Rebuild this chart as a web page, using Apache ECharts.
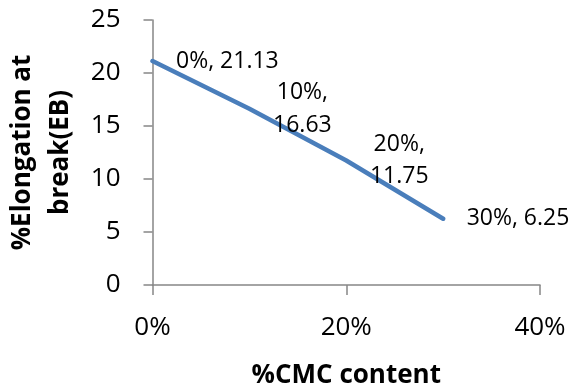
<!DOCTYPE html>
<html>
<head>
<meta charset="utf-8">
<style>
  html, body { margin: 0; padding: 0; background: #ffffff; }
  #chart { width: 582px; height: 387px; }
</style>
<script src="https://cdn.jsdelivr.net/npm/echarts@6/dist/echarts.min.js"></script>
</head>
<body>
<div id="chart"></div>
<script>
// CMC content (fraction) and elongation at break (%)
const cmcContent = [0, 0.1, 0.2, 0.3];
const elongation = [21.13, 16.63, 11.75, 6.25];
const xTicks = [0, 0.2, 0.4];
const yTicks = [0, 5, 10, 15, 20, 25];

const FONT = '"Open Sans", "Liberation Sans", sans-serif';
const LINE_COLOR = '#4a7ebb';
const pct = v => Math.round(v * 100) + '%';

// Points whose label wraps onto two centred lines
const wrapped = [false, true, true, false];

const chart = echarts.init(document.getElementById('chart'), null, { renderer: 'canvas' });

chart.setOption({
  animation: false,
  backgroundColor: '#ffffff',
  grid: { left: 152.5, right: 42, top: 20, bottom: 102, containLabel: false, outerBoundsMode: 'none' },
  xAxis: {
    type: 'value',
    min: xTicks[0],
    max: xTicks[xTicks.length - 1],
    interval: xTicks[1] - xTicks[0],
    name: '%CMC content',
    nameLocation: 'middle',
    nameGap: 78,
    nameTextStyle: { fontFamily: FONT, fontSize: 26, fontWeight: 'bold', color: '#000' },
    axisLine: { show: true, onZero: false, lineStyle: { color: '#868686', width: 1.5 } },
    axisTick: { show: true, length: 10, lineStyle: { color: '#868686', width: 1.5 } },
    axisLabel: { formatter: pct, margin: 30, fontFamily: FONT, fontSize: 26, color: '#000' },
    splitLine: { show: false }
  },
  yAxis: {
    type: 'value',
    min: yTicks[0],
    max: yTicks[yTicks.length - 1],
    interval: yTicks[1] - yTicks[0],
    name: '%Elongation at\nbreak(EB)',
    nameLocation: 'middle',
    nameGap: 72,
    nameRotate: 90,
    nameTextStyle: { fontFamily: FONT, fontSize: 26, fontWeight: 'bold', color: '#000', lineHeight: 38, align: 'center' },
    axisLine: { show: true, lineStyle: { color: '#868686', width: 1.5 } },
    axisTick: { show: true, length: 9, lineStyle: { color: '#868686', width: 1.5 } },
    axisLabel: { margin: 32, fontFamily: FONT, fontSize: 26, color: '#000' },
    splitLine: { show: false }
  },
  series: [{
    type: 'line',
    data: cmcContent.map((x, i) => [x, elongation[i]]),
    showSymbol: true,
    symbol: 'circle',
    symbolSize: 1,
    itemStyle: { color: LINE_COLOR, borderWidth: 0 },
    lineStyle: { color: LINE_COLOR, width: 4.5, cap: 'round', join: 'round' },
    label: {
      show: true,
      position: 'right',
      distance: 23,
      offset: [0, 2],
      fontFamily: FONT,
      fontSize: 23,
      color: '#000',
      lineHeight: 32.5,
      formatter: p => {
        const i = p.dataIndex;
        const a = pct(cmcContent[i]);
        const b = elongation[i].toFixed(2);
        return wrapped[i] ? '{c|' + a + ',}\n{c|' + b + '}' : a + ', ' + b;
      },
      rich: {
        c: { width: 59, align: 'center', fontFamily: FONT, fontSize: 23, color: '#000', lineHeight: 32.5 }
      }
    },
    labelLayout: { hideOverlap: false },
    z: 3
  }]
});
</script>
</body>
</html>
